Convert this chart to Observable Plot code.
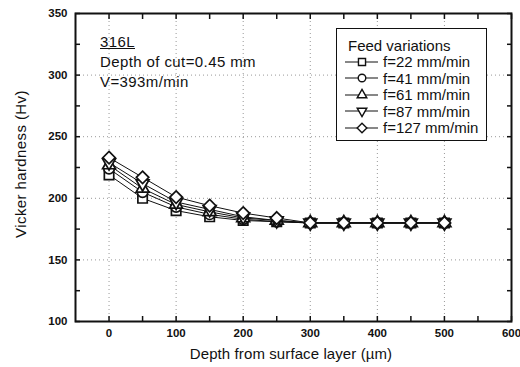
<!DOCTYPE html>
<html>
<head>
<meta charset="utf-8">
<script src="https://cdn.jsdelivr.net/npm/d3@7"></script>
<script src="https://cdn.jsdelivr.net/npm/@observablehq/plot@0.6"></script>
<style>
  html, body { margin: 0; padding: 0; background: #fff; }
  #wrap { position: relative; width: 520px; height: 367px; font-family: "Liberation Sans", Arial, sans-serif; color: #111; }
  #wrap svg text { font-weight: bold; fill: #111; }
  .ann { position: absolute; font-size: 15px; color: #111; white-space: nowrap; }
  #legend { position: absolute; left: 336px; top: 28px; width: 149px; height: 111px; border: 1.5px solid #111; background: #fff; font-size: 15px; color: #111; }
  #legend .row { position: absolute; height: 16px; display: flex; align-items: center; white-space: nowrap; }
</style>
</head>
<body>
<div id="wrap"></div>
<script>
const depth = [0, 50, 100, 150, 200, 250, 300, 350, 400, 450, 500];
const f22  = [219, 200, 190, 185, 182, 181, 180, 180, 180, 180, 180];
const f41  = [224, 205, 193, 187, 183, 181, 180, 180, 180, 180, 180];
const f61  = [227, 208, 195, 189, 184, 182, 180, 180, 180, 180, 180];
const f87  = [229, 212, 197, 191, 185, 182, 180, 180, 180, 180, 180];
const f127 = [233, 217, 201, 194, 188, 184, 180, 180, 180, 180, 180];
const seriesNames = ["f=22 mm/min", "f=41 mm/min", "f=61 mm/min", "f=87 mm/min", "f=127 mm/min"];
const seriesValues = [f22, f41, f61, f87, f127];
const xTicksMajor = [0, 100, 200, 300, 400, 500, 600];
const xTicksAll = [0, 50, 100, 150, 200, 250, 300, 350, 400, 450, 500, 550, 600];
const yTicksMajor = [100, 150, 200, 250, 300, 350];
const yTicksAll = [100, 125, 150, 175, 200, 225, 250, 275, 300, 325, 350];
const legendTitle = "Feed variations";
const annotLines = ["316L", "Depth of cut=0.45 mm", "V=393m/min"];
const xTitle = "Depth from surface layer (µm)";
const yTitle = "Vicker hardness (Hv)";

const triangleDown = {
  draw(context, size) {
    const y = -Math.sqrt(size / (Math.sqrt(3) * 3));
    const s3 = Math.sqrt(3);
    context.moveTo(0, -2 * y);
    context.lineTo(-s3 * y, y);
    context.lineTo(s3 * y, y);
    context.closePath();
  }
};
const symbols = ["square", "circle", "triangle", triangleDown, "diamond2"];
const symbolR = [5.3, 5.2, 4.8, 4.8, 5.6];
const d3symbols = [d3.symbolSquare, d3.symbolCircle, d3.symbolTriangle, triangleDown, d3.symbolDiamond2];
const legendSizes = [50, 45, 40, 40, 60];

const rows = [];
seriesNames.forEach((name, i) => {
  depth.forEach((d, j) => rows.push({series: name, idx: i, depth: d, hv: seriesValues[i][j]}));
});

const marks = [
  Plot.gridX(xTicksMajor.filter(v => v > -50 && v < 600), {stroke: "#444", strokeOpacity: 0.55, strokeDasharray: "1,3"}),
  Plot.gridY(yTicksMajor.filter(v => v > 100 && v < 350), {stroke: "#444", strokeOpacity: 0.55, strokeDasharray: "1,3"}),
  Plot.axisX(xTicksMajor, {anchor: "bottom", tickSize: 0, tickPadding: 7, fontSize: 11.5, label: null}),
  Plot.axisX(xTicksAll, {anchor: "bottom", tickSize: -5, tickFormat: () => "", label: null, strokeWidth: 1.5}),
  Plot.axisX(xTicksAll, {anchor: "top", tickSize: -5, tickFormat: () => "", label: null, strokeWidth: 1.5}),
  Plot.axisY(yTicksMajor, {anchor: "left", tickSize: 0, tickPadding: 8, fontSize: 11.5, label: null}),
  Plot.axisY(yTicksAll, {anchor: "left", tickSize: -5, tickFormat: () => "", label: null, strokeWidth: 1.5}),
  Plot.axisY(yTicksAll, {anchor: "right", tickSize: -5, tickFormat: () => "", label: null, strokeWidth: 1.5}),
  Plot.frame({stroke: "#111", strokeWidth: 2})
];
seriesNames.forEach((name, i) => {
  const data = rows.filter(r => r.idx === i);
  marks.push(Plot.line(data, {x: "depth", y: "hv", stroke: "#111", strokeWidth: 1}));
});
seriesNames.forEach((name, i) => {
  const data = rows.filter(r => r.idx === i);
  marks.push(Plot.dot(data, {x: "depth", y: "hv", symbol: () => symbols[i], r: symbolR[i], fill: "white", stroke: "#111", strokeWidth: 1.7}));
});

const chart = Plot.plot({
  width: 520,
  height: 367,
  marginLeft: 75,
  marginRight: 9,
  marginTop: 13,
  marginBottom: 46,
  style: {fontFamily: "Liberation Sans, Arial, sans-serif", background: "white", overflow: "visible"},
  x: {domain: [-50, 600]},
  y: {domain: [100, 350]},
  marks
});
const wrap = document.getElementById("wrap");
wrap.appendChild(chart);

// axis titles
const xl = document.createElement("div");
xl.className = "ann";
xl.textContent = xTitle;
xl.style.cssText = "left:291px;top:353px;transform:translate(-50%,-50%);letter-spacing:0.1px;";
wrap.appendChild(xl);

const yl = document.createElement("div");
yl.className = "ann";
yl.textContent = yTitle;
yl.style.cssText = "left:20px;top:164px;transform:translate(-50%,-50%) rotate(-90deg);letter-spacing:0.4px;";
wrap.appendChild(yl);

// annotations
const a1 = document.createElement("div");
a1.className = "ann";
a1.style.cssText = "left:100px;top:32px;line-height:20px;letter-spacing:0.4px;";
a1.innerHTML = '<span style="text-decoration:underline">' + annotLines[0] + '</span><br>' + annotLines[1] + '<br>' + annotLines[2];
wrap.appendChild(a1);

// legend
const lg = document.createElement("div");
lg.id = "legend";
const title = document.createElement("div");
title.className = "row";
title.style.left = "11px";
title.style.top = (44 - 28 - 8) + "px";
title.textContent = legendTitle;
lg.appendChild(title);
seriesNames.forEach((name, i) => {
  const row = document.createElement("div");
  row.className = "row";
  row.style.left = "8px";
  row.style.top = (60.5 + i * 16.6 - 28 - 8) + "px";
  const svg = d3.create("svg").attr("width", 34).attr("height", 16);
  svg.append("line").attr("x1", 0).attr("x2", 33).attr("y1", 8).attr("y2", 8).attr("stroke", "#111").attr("stroke-width", 1.2);
  svg.append("path").attr("transform", "translate(17,8)")
    .attr("d", d3.symbol(d3symbols[i], legendSizes[i])())
    .attr("fill", "white").attr("stroke", "#111").attr("stroke-width", 1.4);
  row.appendChild(svg.node());
  const t = document.createElement("span");
  t.textContent = name;
  t.style.marginLeft = "4px";
  row.appendChild(t);
  lg.appendChild(row);
});
wrap.appendChild(lg);
</script>
</body>
</html>
